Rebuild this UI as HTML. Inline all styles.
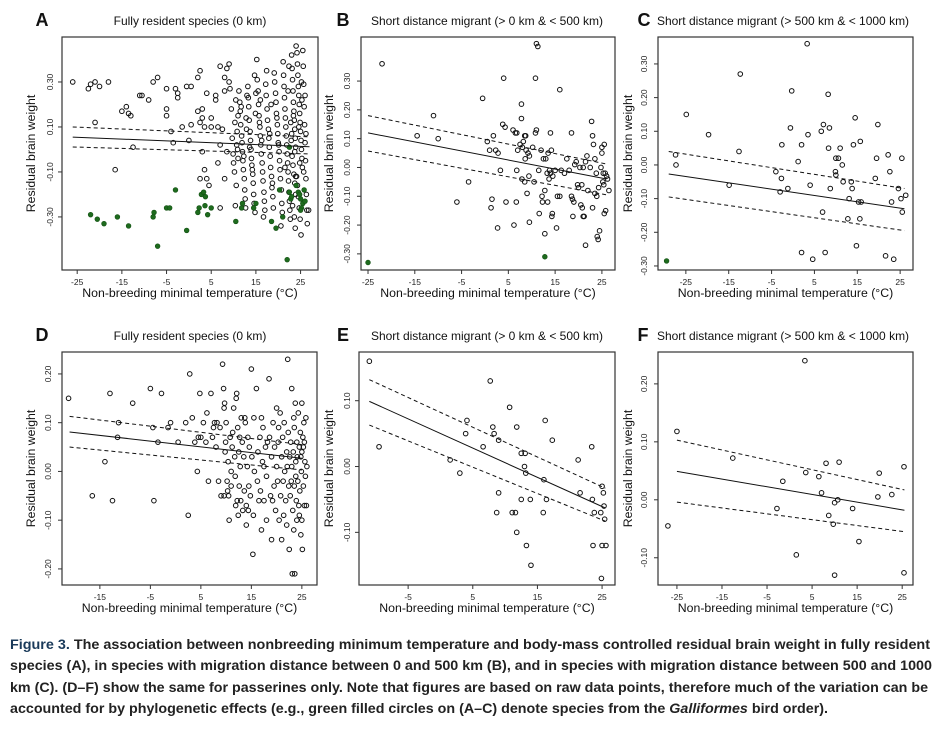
<!DOCTYPE html>
<html><head><meta charset="utf-8">
<style>
html,body{margin:0;padding:0;background:#fff;}
svg{display:block;font-family:"Liberation Sans",sans-serif;}
</style></head>
<body>
<svg id="fig" width="946" height="733" viewBox="0 0 946 733">
<g id="plots"></g>
<g font-size="14" font-weight="bold" fill="#222">
<text x="10" y="649" textLength="920" lengthAdjust="spacingAndGlyphs"><tspan fill="#1a3a5a">Figure 3.</tspan>  The association between nonbreeding minimum temperature and body-mass controlled residual brain weight in fully resident</text>
<text x="10" y="670" textLength="922" lengthAdjust="spacingAndGlyphs">species (A), in species with migration distance between 0 and 500 km (B), and in species with migration distance between 500 and 1000</text>
<text x="10" y="692" textLength="918" lengthAdjust="spacingAndGlyphs">km (C). (D–F) show the same for passerines only. Note that figures are based on raw data points, therefore much of the variation can be</text>
<text x="10" y="713" textLength="818" lengthAdjust="spacingAndGlyphs">accounted for by phylogenetic effects (e.g., green filled circles on (A–C) denote species from the <tspan font-style="italic">Galliformes</tspan> bird order).</text>
</g>
</svg>
<script>
// ---------- DATA ----------
const ptsA = [[-26,0.30],[-22.5,0.27],[-22,0.29],[-21,0.30],[-20,0.28],[-18,0.30],[-21,0.12],[-16.5,-0.09],[-15,0.17],[-14,0.19],[-13.5,0.16],[-13,0.15],[-12.5,0.01],[-11,0.24],[-10.5,0.24],[-9,0.22],[-8,0.30],[-7,0.32],[-5,0.18],[-5,0.15],[-5,0.27],[-4,0.08],[-3.5,0.03],[-3,0.27],[-2.5,0.25],[-2.5,0.23],[-1.5,0.10],[-0.5,0.28],[0.5,0.28],[0.5,0.11],[0,0.04],[2,0.32],[2.5,0.35],[2,0.17],[2.5,0.12],[3,0.18],[3,0.14],[3,-0.01],[2.5,-0.13],[3.5,0.10],[3.5,-0.09],[4,0.25],[4,-0.13],[4.5,-0.16],[5,0.14],[5,0.10],[6,0.24],[6,0.22],[6.5,0.10],[6.5,-0.06],[7,0.37],[7,0.02],[7,-0.26],[8,0.32],[8,0.26],[8,-0.13],[8.5,0.36],[9,0.38],[9,0.30],[7.5,0.09],[8.5,-0.01],
[9.2,0.27],[9.5,0.18],[9.7,0.05],[9.9,-0.02],[10,-0.06],[10.2,-0.10],[10.3,0.12],[10.5,0.22],[10.6,-0.16],[10.8,0.08],[10.9,0.00],[11,-0.04],[11,0.15],[10.4,-0.25],[10.7,0.02],
[11.2,0.26],[11.4,0.21],[11.5,0.17],[11.6,0.11],[11.8,0.06],[11.9,0.03],[12,-0.01],[12.1,-0.05],[12.2,-0.09],[12.4,-0.13],[12.5,-0.18],[12.6,-0.22],[12.7,-0.26],[12.8,0.14],[12.9,0.09],[13,0.24],[12.3,-0.03],[11.7,0.19],
[13.2,0.28],[13.3,0.23],[13.4,0.19],[13.5,0.13],[13.7,0.08],[13.8,0.04],[13.9,0.00],[14,-0.04],[14.1,-0.07],[14.3,-0.11],[14.4,-0.15],[14.5,-0.20],[14.6,-0.24],[14.8,-0.28],[14.9,0.16],[15,0.25],[13.6,0.01],[14.2,-0.09],[14.7,0.33],
[15.2,0.40],[15.3,0.31],[15.5,0.26],[15.6,0.20],[15.7,0.15],[15.9,0.10],[16,0.06],[16.1,0.02],[16.2,-0.02],[16.4,-0.06],[16.5,-0.10],[16.6,-0.14],[16.8,-0.19],[16.9,-0.23],[17,-0.27],[15.8,0.12],[16.3,0.04],[16.7,-0.30],[16,0.22],
[17.2,0.29],[17.3,0.24],[17.5,0.18],[17.6,0.13],[17.8,0.09],[17.9,0.05],[18,0.01],[18.2,-0.03],[18.3,-0.08],[18.5,-0.12],[18.6,-0.17],[18.8,-0.21],[18.9,-0.26],[17.4,0.35],[18.1,0.07],[18.7,-0.15],[18.4,0.20],
[19.1,0.34],[19.2,0.30],[19.4,0.25],[19.5,0.21],[19.6,0.16],[19.8,0.11],[19.9,0.07],[20,0.03],[20.2,-0.01],[20.3,-0.05],[20.4,-0.09],[20.5,-0.13],[20.7,-0.18],[20.8,-0.24],[20.9,-0.28],[19.7,0.14],[20.1,0.02],[20.6,-0.34],
[21.1,0.39],[21.2,0.33],[21.3,0.28],[21.4,0.23],[21.5,0.18],[21.6,0.14],[21.7,0.10],[21.8,0.06],[21.9,0.02],[22,-0.02],[22.1,-0.06],[22.2,-0.10],[22.3,-0.14],[22.4,-0.19],[22.5,-0.23],[22.6,-0.27],[22.7,-0.31],[22.8,0.12],[22.9,0.04],[21.5,-0.08],[22.2,0.26],[22.4,0.37],
[23,0.42],[23.1,0.36],[23.2,0.31],[23.3,0.26],[23.4,0.21],[23.5,0.17],[23.6,0.13],[23.7,0.09],[23.8,0.05],[23.9,0.01],[23.1,-0.03],[23.3,-0.07],[23.5,-0.11],[23.7,-0.15],[23.9,-0.20],[23.2,-0.25],[23.6,-0.30],[23.8,-0.35],[23.4,0.15],[23,0.07],[23.7,-0.01],[23.9,-0.12],
[24,0.46],[24.2,0.43],[24.3,0.38],[24.4,0.33],[24.5,0.28],[24.6,0.24],[24.7,0.20],[24.8,0.16],[24.9,0.12],[25,0.08],[25.1,0.04],[25.2,0.00],[25.3,-0.04],[25.4,-0.08],[24.1,-0.12],[24.3,-0.16],[24.5,-0.21],[24.7,-0.26],[24.9,-0.31],[25.1,-0.38],[25.3,0.22],[24.6,0.10],[24.8,-0.06],[25.2,0.30],
[25.6,0.37],[25.7,0.29],[25.8,0.19],[25.9,0.11],[26,0.03],[26.1,-0.05],[26.2,-0.13],[26.3,-0.20],[26.4,-0.27],[26.5,-0.33],[26,0.24],[26.2,0.07],[25.7,-0.10],[25.5,0.44],[26.8,-0.27]];
const greenA = [[-22,-0.29],[-20.5,-0.31],[-19,-0.33],[-16,-0.30],[-13.5,-0.34],[-8,-0.30],[-7.8,-0.28],[-7,-0.43],[-5,-0.26],[-4.3,-0.26],[-3,-0.18],[-0.5,-0.36],[2,-0.28],[2.3,-0.26],[2.8,-0.20],[3.3,-0.19],[3.6,-0.25],[3.7,-0.21],[4.2,-0.29],[5,-0.26],[10.5,-0.32],[11.8,-0.26],[12,-0.24],[14.5,-0.26],[15,-0.24],[18.5,-0.32],[19.5,-0.35],[20.3,-0.18],[21,-0.30],[22,-0.49],[22.5,-0.19],[22.8,-0.22],[23,-0.21],[22.5,0.01],[24.5,-0.19],[25,-0.22],[25.5,-0.24],[25.2,-0.26],[24.8,-0.20],[25.8,-0.18],[26,-0.23],[25,-0.27],[24,-0.16]];
const fitA = {x:[-26,27], mid:[0.055,0.012], up:[0.10,0.056], lo:[0.011,-0.02]};

const ptsB = [[-22,0.36],[-11,0.18],[-14.5,0.11],[-10,0.10],[-6,-0.12],[-3.5,-0.05],[-0.5,0.24],[0.5,0.09],[1,0.06],[1.8,0.11],[1.5,-0.11],[1.3,-0.14],[2.3,0.06],[2.8,0.05],[2.7,-0.21],[3.3,-0.01],[3.8,0.15],[4,0.31],[4.3,0.14],[4.5,-0.12],[6,0.13],[6.5,0.12],[6.2,-0.20],[6.8,0.12],[6.7,-0.12],[6.8,-0.01],[7,0.06],[7.5,0.08],[7.8,0.22],[7.8,0.17],[7.9,-0.04],[8,0.07],[8.2,0.09],[8.5,-0.05],[8.5,0.11],[8.6,0.03],[8.7,0.11],[8.8,0.06],[9,-0.09],[9.2,0.05],[9.4,-0.03],[9.5,-0.19],[9.5,0.04],[10.2,0.07],[10.5,-0.05],[10.8,0.12],[11,0.13],[11,0.43],[11.3,0.42],[10.8,0.31],[11.5,-0.01],[11.6,-0.16],[12,0.06],[12.2,-0.10],[12.3,-0.12],[12.5,0.03],[12.8,-0.23],[12.8,-0.08],[13,0.03],[13.3,-0.02],[13.4,-0.12],[13.5,0.05],[13.7,-0.04],[13.8,-0.01],[14,0.12],[14,-0.02],[14.2,0.06],[14.3,-0.17],[14.4,-0.16],[14.5,-0.03],[15,-0.01],[15.3,-0.21],[15.5,-0.10],[16,0.27],[16,-0.10],[16.3,-0.01],[17,-0.02],[17.5,0.03],[18,-0.01],[18.5,0.12],[18.5,-0.10],[18.7,-0.11],[18.8,-0.17],[19,-0.12],[19.2,0.01],[19.5,0.02],[19.8,-0.06],[20,-0.07],[20.3,0.00],[20.5,-0.13],[20.7,-0.06],[20.8,-0.14],[21,0.00],[21,-0.17],[21.2,-0.17],[21.5,0.02],[21.5,-0.27],[21.8,0.04],[22,-0.08],[22.5,0.00],[22.8,0.16],[23,-0.14],[23,0.11],[23.2,0.08],[23.5,0.03],[23.5,-0.09],[23.8,-0.02],[23.9,-0.10],[24,-0.24],[24.2,-0.25],[24.3,-0.07],[24.5,-0.22],[24.8,0.00],[25,0.07],[25,0.05],[25.2,-0.05],[25.3,-0.02],[25.4,-0.06],[25.5,0.08],[25.5,-0.16],[25.7,-0.02],[26,-0.03],[26.2,-0.04],[25.8,-0.15],[26.5,-0.08]];
const greenB = [[-25,-0.33],[12.8,-0.31]];
const fitB = {x:[-25,26], mid:[0.12,-0.04], up:[0.18,0.012], lo:[0.057,-0.095]};

const ptsC = [[-27.4,0.03],[-27.3,0.00],[-24.9,0.15],[-19.7,0.09],[-14.9,-0.06],[-12.6,0.04],[-12.3,0.27],[-4,-0.02],[-2.7,-0.04],[-2.6,0.06],[-3,-0.08],[-1.2,-0.07],[-0.6,0.11],[-0.3,0.22],[1.2,0.01],[2,0.06],[2,-0.26],[3.5,0.09],[4,-0.06],[4.6,-0.28],[3.3,0.36],[6.6,0.10],[7.1,0.12],[6.9,-0.14],[7.5,-0.26],[8.2,0.21],[8.3,0.05],[8.5,0.11],[8.7,-0.07],[9.9,-0.02],[10,-0.03],[10,0.02],[10.6,0.02],[11,0.05],[11.5,0.00],[11.7,-0.05],[12.8,-0.16],[13.1,-0.10],[13.6,-0.05],[13.8,-0.07],[14.1,0.06],[14.5,0.14],[14.8,-0.24],[15.3,-0.11],[15.6,-0.16],[15.7,0.07],[15.9,-0.11],[19.2,-0.04],[19.5,0.02],[19.8,0.12],[21.6,-0.27],[22.2,0.03],[22.6,-0.02],[23,-0.11],[23.5,-0.28],[24.6,-0.07],[25.2,-0.10],[25.4,0.02],[25.5,-0.14],[26.3,-0.09]];
const greenC = [[-29.5,-0.285]];
const fitC = {x:[-29,26], mid:[-0.027,-0.13], up:[0.04,-0.07], lo:[-0.095,-0.195]};

const ptsD = [[-21.2,0.15],[-16.5,-0.05],[-14,0.02],[-13,0.16],[-12.5,-0.06],[-11.3,0.10],[-11.5,0.07],[-8.5,0.14],[-5,0.17],[-4.5,0.09],[-4.3,-0.06],[-3.5,0.06],[-2.8,0.16],[-1.5,0.09],[-1,0.10],[0.5,0.06],[2,0.10],[2.5,-0.09],[2.8,0.20],[3.3,0.11],[3.8,0.06],[4.3,0.00],[4.5,0.07],[4.8,0.16],[5,0.07],[5.5,0.10],[6,0.06],[6.2,0.12],[6.5,-0.02],[7,0.16],[7.3,0.07],[7.5,0.09],[7.7,0.10],[8,0.05],[8.2,0.10],[8.5,-0.02],[8.8,0.09],[9,-0.05],[9.3,0.22],[9.5,0.17],[9.6,0.13],[9.7,0.14],
[9.8,0.04],[10,0.10],[10.2,-0.02],[10.4,0.02],[10.5,-0.05],[10.6,-0.10],[10.8,0.07],[11,0.00],[11,-0.03],[11.2,0.05],[11.3,0.08],[10.3,-0.04],[9.6,-0.05],[9.9,0.06],
[11.5,0.13],[11.7,0.03],[11.8,-0.01],[12,0.15],[12.1,0.16],[12.2,-0.06],[12.3,0.09],[12.4,-0.09],[12.5,0.04],[12.6,-0.03],[12.8,0.01],[12.9,-0.06],[13,0.11],[13.2,0.06],[13.3,-0.08],[11.9,-0.07],[12.7,0.07],
[13.5,0.03],[13.6,-0.04],[13.7,0.11],[13.8,0.10],[14,-0.07],[14,-0.11],[14.2,0.01],[14.3,0.07],[14.5,-0.03],[14.6,0.05],[14.8,-0.05],[15,0.21],[15.1,0.03],[15.3,-0.17],[15.4,-0.09],[15.5,0.11],[14.4,-0.08],[15.6,0.00],
[16,0.17],[16.2,-0.02],[16.3,0.04],[16.5,-0.06],[16.7,0.07],[16.8,-0.04],[17,0.11],[17,-0.12],[17.3,0.09],[17.5,0.01],[17.5,-0.06],[17.8,0.05],[18,-0.01],[18,-0.10],[17.2,0.02],[18.2,0.06],[18.5,0.19],
[18.6,0.07],[18.8,-0.05],[19,-0.14],[19,0.03],[19.3,0.10],[19.5,-0.03],[19.6,0.05],[19.8,-0.08],[20,0.01],[20,0.13],[20.2,-0.02],[20.3,0.06],[20.5,-0.10],[19.2,-0.06],[20.4,0.09],
[20.7,0.12],[20.8,-0.05],[21,0.03],[21,-0.14],[21.2,0.07],[21.3,-0.02],[21.5,0.10],[21.6,0.00],[21.8,-0.06],[22,0.04],[22,-0.11],[22.2,0.23],[22.3,0.08],[22.4,-0.03],[22.5,-0.16],[21.4,-0.09],[22.1,0.01],
[22.6,0.03],[22.7,-0.05],[22.8,0.06],[22.9,-0.02],[23,0.17],[23,0.01],[23.2,-0.08],[23.3,0.04],[23.4,-0.12],[23.5,0.09],[23.5,-0.03],[23.6,-0.21],[23.7,0.14],[23.8,0.02],[23.9,-0.06],[24,0.06],[24,-0.10],[23.1,-0.21],[23.4,0.11],[23.8,-0.01],
[24.1,0.03],[24.2,-0.02],[24.3,0.12],[24.4,-0.07],[24.5,0.05],[24.6,-0.04],[24.7,0.08],[24.8,-0.13],[24.9,0.00],[25,0.14],[25,-0.10],[25,0.04],[25.1,-0.16],[25.2,0.07],[25.3,-0.03],[25.4,0.10],[25.5,-0.07],[25.6,0.02],[25.7,-0.01],[25.8,0.11],[25.9,-0.07],[26,0.01],[25.3,0.05],[24.5,-0.09],[24.8,0.03],[25.5,0.06]];
const fitD = {x:[-21,25], mid:[0.081,0.027], up:[0.113,0.055], lo:[0.05,0.003]};

const ptsE = [[-11,0.16],[-9.5,0.03],[1.5,0.01],[3,-0.01],[4.1,0.07],[3.9,0.05],[6.6,0.03],[7.7,0.13],[8.1,0.06],[8.3,0.05],[9,0.04],[9,-0.04],[8.7,-0.07],[10.7,0.09],[11.1,-0.07],[11.6,-0.07],[11.8,0.06],[11.8,-0.10],[12.5,-0.05],[12.5,0.02],[13,0.00],[13.1,0.02],[13.2,-0.01],[13.3,-0.12],[13.9,-0.05],[14,-0.15],[15.9,-0.07],[16,-0.02],[16.2,0.07],[16.4,-0.05],[17.3,0.04],[21.3,0.01],[21.6,-0.04],[23.4,0.03],[23.5,-0.05],[23.6,-0.12],[23.8,-0.07],[24.8,-0.07],[25,-0.12],[25,-0.03],[25.2,-0.04],[25.3,-0.06],[25.4,-0.08],[25.6,-0.12],[24.9,-0.17]];
const fitE = {x:[-11,25.5], mid:[0.099,-0.063], up:[0.132,-0.033], lo:[0.063,-0.083]};

const ptsF = [[-27,-0.045],[-25,0.118],[-12.6,0.072],[-2.8,-0.015],[-1.5,0.032],[1.5,-0.095],[3.6,0.047],[3.4,0.24],[6.5,0.040],[7.1,0.012],[8.1,0.063],[8.7,-0.027],[9.7,-0.042],[10,-0.005],[10,-0.13],[10.7,0.000],[11,0.065],[14,-0.015],[15.4,-0.072],[19.6,0.005],[19.9,0.046],[22.7,0.009],[25.4,0.057],[25.4,-0.126]];
const fitF = {x:[-25,25.5], mid:[0.049,-0.018], up:[0.103,0.017], lo:[-0.004,-0.055]};

const ticksX_A = [-25,-15,-5,5,15,25];
const ticksX_D = [-15,-5,5,15,25];
const ticksX_E = [-5,5,15,25];
const ticksY_A = [-0.30,-0.10,0.10,0.30];
const ticksY_BC = [-0.30,-0.20,-0.10,0.00,0.10,0.20,0.30];
const ticksY_D = [-0.20,-0.10,0.00,0.10,0.20];
const ticksY_E = [-0.10,0.00,0.10];
const ticksY_F = [-0.10,0.00,0.10,0.20];

// ---------- LAYOUT ----------
const panels = [
 {id:'a',letter:'A',title:'Fully resident species (0 km)',L:62,R:318,T:37,B:270,xd:[-28.4,28.9],yd:[-0.536,0.50],pts:ptsA,green:greenA,fit:fitA,tx:ticksX_A,ty:ticksY_A,lx:42,tcx:190,ylx:35,tly:53},
 {id:'b',letter:'B',title:'Short distance migrant (> 0 km & < 500 km)',L:361,R:615,T:37,B:270,xd:[-26.5,27.8],yd:[-0.356,0.453],pts:ptsB,green:greenB,fit:fitB,tx:ticksX_A,ty:ticksY_BC,lx:343,tcx:487,ylx:333,tly:350},
 {id:'c',letter:'C',title:'Short distance migrant (> 500 km & < 1000 km)',L:658,R:913,T:37,B:270,xd:[-31.5,28],yd:[-0.312,0.38],pts:ptsC,green:greenC,fit:fitC,tx:ticksX_A,ty:ticksY_BC,lx:644,tcx:783,ylx:632,tly:647},
 {id:'d',letter:'D',title:'Fully resident species (0 km)',L:62,R:317,T:352,B:585,xd:[-22.5,28],yd:[-0.233,0.245],pts:ptsD,green:[],fit:fitD,tx:ticksX_D,ty:ticksY_D,lx:42,tcx:190,ylx:35,tly:51},
 {id:'e',letter:'E',title:'Short distance migrant (> 0 km & < 500 km)',L:359,R:615,T:352,B:585,xd:[-12.6,27],yd:[-0.18,0.174],pts:ptsE,green:[],fit:fitE,tx:ticksX_E,ty:ticksY_E,lx:343,tcx:487,ylx:333,tly:350},
 {id:'f',letter:'F',title:'Short distance migrant (> 500 km & < 1000 km)',L:658,R:913,T:352,B:585,xd:[-29.2,27.4],yd:[-0.147,0.255],pts:ptsF,green:[],fit:fitF,tx:ticksX_A,ty:ticksY_F,lx:643,tcx:783,ylx:632,tly:647}
];

const NS='http://www.w3.org/2000/svg';
const root=document.getElementById('plots');
function mk(tag,attrs,parent){const e=document.createElementNS(NS,tag);for(const k in attrs)e.setAttribute(k,attrs[k]);parent.appendChild(e);return e;}

panels.forEach(p=>{
  const g=mk('g',{},root);
  
  
  const sx=v=>p.L+(v-p.xd[0])/(p.xd[1]-p.xd[0])*(p.R-p.L);
  const sy=v=>p.B-(v-p.yd[0])/(p.yd[1]-p.yd[0])*(p.B-p.T);
  const tb=p.T-12;
  const letter=mk('text',{x:p.lx,y:tb+1,'font-size':18,'font-weight':'bold','text-anchor':'middle',fill:'#111'},g);
  letter.textContent=p.letter;
  
  
  const title=mk('text',{x:p.tcx,y:tb,'font-size':12,'text-anchor':'middle',fill:'#111'},g);
  title.textContent=p.title;
  
  
  const box=mk('rect',{x:p.L,y:p.T,width:p.R-p.L,height:p.B-p.T,fill:'none',stroke:'#333','stroke-width':1.2},g);
  
  
  p.tx.forEach(t=>{
    const x=sx(t);
    const tk=mk('line',{x1:x,x2:x,y1:p.B,y2:p.B+4,stroke:'#333','stroke-width':1},g);
    
    
    const lb=mk('text',{x:x,y:p.B+15,'font-size':8.5,'text-anchor':'middle',fill:'#222'},g);
    lb.textContent=String(t);
    
    
  });
  p.ty.forEach(t=>{
    const y=sy(t);
    const tk=mk('line',{x1:p.L-4,x2:p.L,y1:y,y2:y,stroke:'#333','stroke-width':1},g);
    
    
    const lb=mk('text',{x:p.tly,y:y,'font-size':8.5,'text-anchor':'middle',fill:'#222',transform:'rotate(-90 '+p.tly+' '+y+')'},g);
    lb.textContent=t.toFixed(2);
    
    
  });
  const xt=mk('text',{x:(p.L+p.R)/2,y:p.B+27,'font-size':12.3,'text-anchor':'middle',fill:'#111'},g);
  xt.textContent='Non-breeding minimal temperature (°C)';
  
  
  const ym=(p.T+p.B)/2;
  const yt=mk('text',{x:p.ylx,y:ym,'font-size':12.3,'text-anchor':'middle',fill:'#111',transform:'rotate(-90 '+p.ylx+' '+ym+')'},g);
  yt.textContent='Residual brain weight';
  
  
  p.pts.forEach(d=>{
    const c=mk('circle',{cx:sx(d[0]),cy:sy(d[1]),r:2.3,fill:'none',stroke:'#111','stroke-width':1},g);
    
    
  });
  p.green.forEach(d=>{
    const c=mk('circle',{cx:sx(d[0]),cy:sy(d[1]),r:2.4,fill:'#1e6b1e',stroke:'#145214','stroke-width':0.6},g);
    
    
  });
  [['mid',null,'regression-line'],['up','4,3','upper-confidence-line'],['lo','4,3','lower-confidence-line']].forEach(s=>{
    const a={x1:sx(p.fit.x[0]),y1:sy(p.fit[s[0]][0]),x2:sx(p.fit.x[1]),y2:sy(p.fit[s[0]][1]),stroke:'#111','stroke-width':1};
    if(s[1])a['stroke-dasharray']=s[1];
    const l=mk('line',a,g);
    
    
  });
});
</script>
</body></html>
